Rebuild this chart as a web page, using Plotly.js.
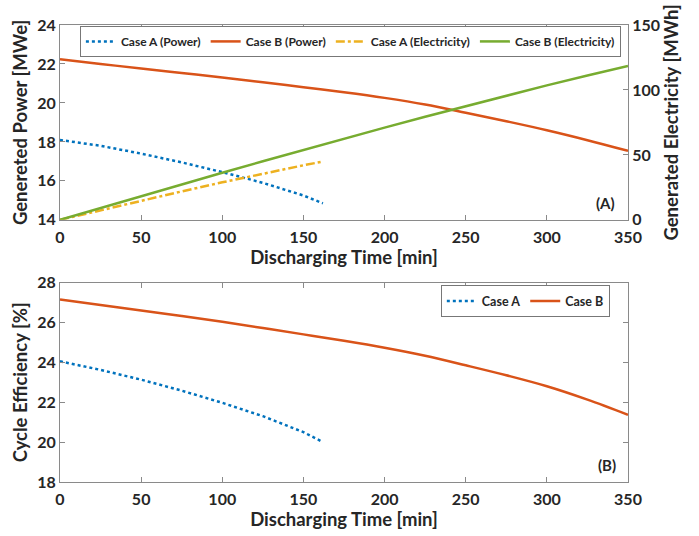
<!DOCTYPE html>
<html><head><meta charset="utf-8">
<script src="https://cdn.plot.ly/plotly-3.0.1.min.js"></script>
<style>body{margin:0;padding:0;background:#fff}#c{width:699px;height:536px}</style>
</head><body><div id="c"></div>
<script>
// Top panel: generated power [MWe]
const tA = [0, 25, 50, 75, 100, 125, 150, 162];
const powerA = [18.1, 17.8, 17.4, 16.95, 16.45, 15.9, 15.25, 14.85];
const tB = [0, 25, 50, 75, 100, 125, 150, 175, 200, 225, 250, 275, 300, 325, 350];
const powerB = [22.24, 22.0, 21.77, 21.54, 21.3, 21.06, 20.81, 20.55, 20.26, 19.92, 19.5, 19.06, 18.6, 18.09, 17.54];
// Generated electricity [MWh]
const elecA = [0, 7.5, 14.8, 21.9, 28.9, 35.6, 42.0, 44.9];
const elecB = [0, 9.2, 18.3, 27.4, 36.3, 45.1, 53.9, 62.5, 71.0, 79.4, 87.6, 95.6, 103.5, 111.1, 118.5];
// Bottom panel: cycle efficiency [%]
const effA = [24.05, 23.62, 23.13, 22.58, 21.97, 21.3, 20.5, 20.0];
const effB = [27.15, 26.87, 26.6, 26.32, 26.03, 25.72, 25.4, 25.08, 24.73, 24.33, 23.85, 23.35, 22.8, 22.13, 21.37];

const blue = '#0072BD', orange = '#D95319', yellow = '#EDB120', green = '#77AC30';
const FONT = 'Lato, "Open Sans", sans-serif';
const tickFont = {family: FONT, size: 16, color: '#262626', weight: 'bold'};
const titleFont = {family: FONT, size: 18.5, color: '#262626', weight: 'bold'};

const traces = [
  {x: tA, y: powerA, name: 'Case A (Power)', mode: 'lines', line: {color: blue, width: 2.5, dash: 'dot'}, xaxis: 'x', yaxis: 'y', legend: 'legend'},
  {x: tB, y: powerB, name: 'Case B (Power)', mode: 'lines', line: {color: orange, width: 2.5, shape: 'spline'}, xaxis: 'x', yaxis: 'y', legend: 'legend'},
  {x: tA, y: elecA, name: 'Case A (Electricity)', mode: 'lines', line: {color: yellow, width: 2.5, dash: 'dashdot'}, xaxis: 'x', yaxis: 'y2', legend: 'legend'},
  {x: tB, y: elecB, name: 'Case B (Electricity)', mode: 'lines', line: {color: green, width: 2.5}, xaxis: 'x', yaxis: 'y2', legend: 'legend'},
  {x: tA, y: effA, name: 'Case A', mode: 'lines', line: {color: blue, width: 2.5, dash: 'dot'}, xaxis: 'x2', yaxis: 'y3', legend: 'legend2'},
  {x: tB, y: effB, name: 'Case B', mode: 'lines', line: {color: orange, width: 2.5, shape: 'spline'}, xaxis: 'x2', yaxis: 'y3', legend: 'legend2'}
];

const axBase = {
  showgrid: false, zeroline: false, showline: true, linecolor: '#8a8a8a', linewidth: 1,
  ticks: 'inside', ticklen: 5, tickcolor: '#8a8a8a', mirror: 'ticks',
  tickfont: tickFont
};

const layout = {
  width: 699, height: 536,
  margin: {l: 60, r: 71, t: 25, b: 54},
  paper_bgcolor: '#fff', plot_bgcolor: '#fff',
  font: {family: FONT},
  showlegend: true,
  xaxis: Object.assign({}, axBase, {domain: [0, 1], anchor: 'y', range: [0, 350], dtick: 50, ticklabelstandoff: 3,
    title: {text: 'Discharging Time [min]', font: titleFont, standoff: 2}}),
  yaxis: Object.assign({}, axBase, {domain: [0.5736, 1], anchor: 'x', range: [14, 24], dtick: 2, mirror: false,
    title: {text: 'Genereted Power [MWe]', font: titleFont, standoff: 4}}),
  yaxis2: Object.assign({}, axBase, {overlaying: 'y', side: 'right', anchor: 'x', range: [0, 150], dtick: 50, mirror: false,
    title: {text: 'Generated Electricity [MWh]', font: titleFont, standoff: 6}}),
  xaxis2: Object.assign({}, axBase, {domain: [0, 1], anchor: 'y3', range: [0, 350], dtick: 50, ticklabelstandoff: 3,
    title: {text: 'Discharging Time [min]', font: titleFont, standoff: 2}}),
  yaxis3: Object.assign({}, axBase, {domain: [0, 0.4365], anchor: 'x2', range: [18, 28], dtick: 2,
    title: {text: 'Cycle Efficiency [%]', font: titleFont, standoff: 4}}),
  legend: {orientation: 'h', x: 0.035, y: 0.998, xanchor: 'left', yanchor: 'top',
    bgcolor: '#fff', bordercolor: '#777', borderwidth: 1,
    font: {family: FONT, size: 12, color: '#262626', weight: 'bold'}, itemwidth: 30},
  legend2: {orientation: 'h', x: 0.968, y: 0.43, xanchor: 'right', yanchor: 'top',
    bgcolor: '#fff', bordercolor: '#777', borderwidth: 1,
    font: {family: FONT, size: 12.5, color: '#262626', weight: 'bold'}, itemwidth: 30},
  annotations: [
    {text: '(A)', xref: 'x', yref: 'y', x: 343, y: 14.3, xanchor: 'right', yanchor: 'bottom', showarrow: false,
      font: {family: FONT, size: 15, color: '#262626', weight: 'bold'}},
    {text: '(B)', xref: 'x2', yref: 'y3', x: 344, y: 18.3, xanchor: 'right', yanchor: 'bottom', showarrow: false,
      font: {family: FONT, size: 15, color: '#262626', weight: 'bold'}}
  ]
};

Plotly.newPlot('c', traces, layout, {staticPlot: true, displayModeBar: false});
</script>
</body></html>
